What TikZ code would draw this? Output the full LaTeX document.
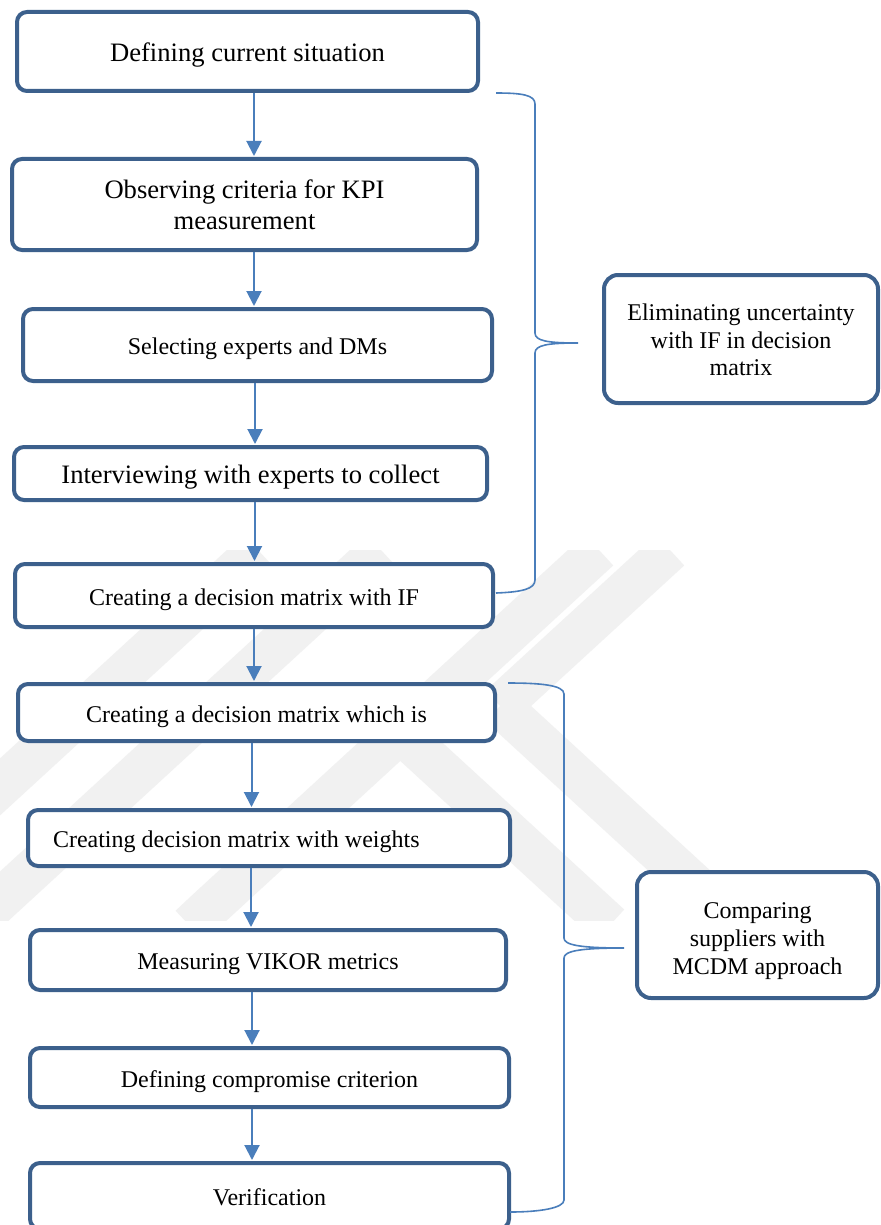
\documentclass[tikz,border=0pt]{standalone}
\usepackage{fontspec}
\setmainfont{Liberation Serif}
\usetikzlibrary{arrows.meta}
\definecolor{boxc}{RGB}{60,96,140}
\definecolor{arrc}{RGB}{74,126,187}
\definecolor{wm}{RGB}{241,241,241}
\tikzset{
  box/.style={draw=boxc, line width=4pt, rounded corners=10pt, fill=white, inner sep=0pt, align=center},
  big/.style={font=\fontsize{26.6pt}{30.6pt}\selectfont},
  small/.style={font=\fontsize{24pt}{27.6pt}\selectfont},
  onebig/.style={text height=26.4pt, text depth=5.9pt},
  onesmall/.style={text height=24.6pt, text depth=5.3pt},
  arr/.style={draw=arrc, line width=2pt, shorten >=1pt, -{Triangle[length=15pt,width=15pt]}},
  brace/.style={draw=arrc, line width=1.6pt},
  wmband/.style={draw=wm, line width=42pt},
}
\begin{document}
\begin{tikzpicture}[x=1pt,y=-1pt]
\useasboundingbox (0,0) rectangle (880,1225);
\fill[white] (0,0) rectangle (880,1225);
% faint watermark
\begin{scope}
\clip (0,550) rectangle (720,920);
\draw[wmband] (258,550) -- (-60,842);
\draw[wmband] (381,550) -- (0,900) -- (-30,928);
\draw[wmband] (599,550) -- (207,910) -- (190,926);
\draw[wmband] (670,550) -- (500,706);
\draw[wmband] (500,706) -- (720,908);
\draw[wmband] (390,723) -- (610,925);
\end{scope}
% boxes
\node[box,big,onebig,minimum width=461pt,minimum height=79pt] (b1) at (247.5,51.5) {Defining current situation};
\node[box,big,minimum width=465pt,minimum height=91pt] (b2) at (244.5,204.5) {Observing criteria for KPI\\measurement};
\node[box,small,onesmall,minimum width=469pt,minimum height=72pt] (b3) at (257.5,345) {Selecting experts and DMs};
\node[box,big,onebig,minimum width=473pt,minimum height=53pt] (b4) at (250.5,473.5) {Interviewing with experts to collect};
\node[box,small,onesmall,minimum width=478pt,minimum height=63pt] (b5) at (254,595.5) {Creating a decision matrix with IF};
\node[box,small,onesmall,minimum width=477pt,minimum height=57pt] (b6) at (256.5,712.5) {Creating a decision matrix which is};
\node[box,small,onesmall,minimum width=482pt,minimum height=56pt] (b7) at (269,838) {\makebox[432pt][l]{Creating decision matrix with weights}};
\node[box,small,onesmall,minimum width=476pt,minimum height=60pt] (b8) at (268,960) {Measuring VIKOR metrics};
\node[box,small,onesmall,minimum width=479pt,minimum height=59pt] (b9) at (269.5,1077.5) {Defining compromise criterion};
\node[box,small,onesmall,minimum width=479pt,minimum height=66pt] (b10) at (269.5,1196) {Verification};
\node[box,small,rounded corners=14pt,minimum width=274pt,minimum height=128pt] (e) at (741,339) {\rule{0pt}{19pt}Eliminating uncertainty\\with IF in decision\\matrix};
\node[box,small,rounded corners=14pt,minimum width=241pt,minimum height=126pt] (c) at (757.5,935) {\rule{0pt}{28pt}Comparing\\suppliers with\\MCDM approach};
% arrow columns
\coordinate (a1) at (254,0);
\coordinate (a2) at (254,0);
\coordinate (a3) at (255,0);
\coordinate (a4) at (254.5,0);
\coordinate (a5) at (254,0);
\coordinate (a6) at (251.5,0);
\coordinate (a7) at (251,0);
\coordinate (a8) at (252,0);
\coordinate (a9) at (252,0);
\draw[arr] (b1.south -| a1) -- (b2.north -| a1);
\draw[arr] (b2.south -| a2) -- (b3.north -| a2);
\draw[arr] (b3.south -| a3) -- (b4.north -| a3);
\draw[arr] (b4.south -| a4) -- (b5.north -| a4);
\draw[arr] (b5.south -| a5) -- (b6.north -| a5);
\draw[arr] (b6.south -| a6) -- (b7.north -| a6);
\draw[arr] (b7.south -| a7) -- (b8.north -| a7);
\draw[arr] (b8.south -| a8) -- (b9.north -| a8);
\draw[arr] (b9.south -| a9) -- (b10.north -| a9);
% braces
\coordinate (t1) at (578,343);
\coordinate (t2) at (624,948);
\draw[brace] (496,93) .. controls (522,93) and (535,95) .. (535,104) -- (535,333)
  .. controls (535,341) and (548,343) .. (t1)
  .. controls (548,343) and (535,345) .. (535,353) -- (535,580)
  .. controls (535,589) and (522,592) .. (496,593);
\draw[brace] (508,683) .. controls (540,683) and (564,685) .. (564,694) -- (564,938)
  .. controls (564,945) and (580,948) .. (t2)
  .. controls (580,948) and (564,951) .. (564,958) -- (564,1200)
  .. controls (564,1208) and (540,1212) .. (510,1212);
\end{tikzpicture}
\end{document}
